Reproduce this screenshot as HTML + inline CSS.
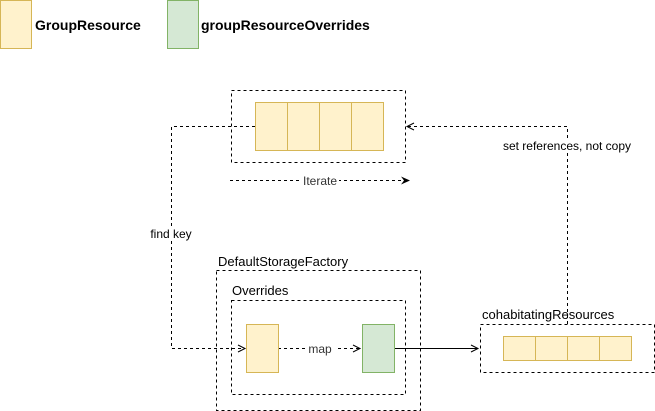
<!DOCTYPE html>
<html><head><meta charset="utf-8"><style>
html,body{margin:0;padding:0;background:#fff;}
svg{display:block;}
text{font-family:"Liberation Sans",Arial,sans-serif;font-size:12px;fill:#000;}
</style></head><body>
<svg width="655" height="411" viewBox="0 0 655 411" xmlns="http://www.w3.org/2000/svg">
<defs>
<marker id="oa" markerWidth="10" markerHeight="10" refX="8" refY="5" orient="auto" markerUnits="userSpaceOnUse"><path d="M1,1.5 L8,5 L1,8.5" fill="none" stroke="#000" stroke-width="1"/></marker>
<marker id="fa" markerWidth="10" markerHeight="10" refX="8" refY="5" orient="auto" markerUnits="userSpaceOnUse"><path d="M0,1 L9,5 L0,9 L3,5 Z" fill="#000"/></marker>
</defs>
<!-- legend -->
<rect x="0.5" y="0.5" width="31" height="48" fill="#fff2cc" stroke="#d6b656"/>
<text x="35" y="30" style="font-size:14px;font-weight:bold">GroupResource</text>
<rect x="167.5" y="0.5" width="31" height="48" fill="#d5e8d4" stroke="#82b366"/>
<text x="201" y="30" style="font-size:14px;font-weight:bold">groupResourceOverrides</text>

<g fill="none" stroke="#000" stroke-dasharray="3,3">
<rect x="231.5" y="90.5" width="174" height="72"/>
<rect x="216.5" y="270.5" width="204" height="140"/>
<rect x="231.5" y="300.5" width="174" height="94"/>
<rect x="480.5" y="324.5" width="174" height="48"/>
<path d="M255,126.5 H171.5 V348.5 H245" marker-end="url(#oa)"/>
<path d="M567.5,324 V126.5 H407" marker-end="url(#oa)"/>
<path d="M278,348.5 H360" marker-end="url(#oa)"/>
<path d="M230,180.5 H409" marker-end="url(#fa)"/>
</g>
<path d="M394,348.5 H478" stroke="#000" fill="none" marker-end="url(#oa)"/>

<g fill="#fff2cc" stroke="#d6b656">
<rect x="255.5" y="102.5" width="32" height="48"/><rect x="287.5" y="102.5" width="32" height="48"/>
<rect x="319.5" y="102.5" width="32" height="48"/><rect x="351.5" y="102.5" width="32" height="48"/>
<rect x="503.5" y="336.5" width="32" height="24"/><rect x="535.5" y="336.5" width="32" height="24"/>
<rect x="567.5" y="336.5" width="32" height="24"/><rect x="599.5" y="336.5" width="32" height="24"/>
<rect x="246.5" y="324.5" width="32" height="48"/>
</g>
<rect x="362.5" y="324.5" width="32" height="48" fill="#d5e8d4" stroke="#82b366"/>

<rect x="301" y="173" width="38" height="14" fill="#fff"/>
<text x="320" y="185" text-anchor="middle" style="fill:#333">Iterate</text>
<rect x="305" y="341" width="30" height="14" fill="#fff"/>
<text x="320" y="353" text-anchor="middle" style="fill:#333">map</text>
<rect x="146" y="226" width="50" height="14" fill="#fff"/>
<text x="171" y="238" text-anchor="middle">find key</text>
<rect x="498" y="138" width="138" height="14" fill="#fff"/>
<text x="567" y="150" text-anchor="middle">set references, not copy</text>
<text x="218" y="266" style="font-size:13px">DefaultStorageFactory</text>
<text x="232" y="295" style="font-size:13px">Overrides</text>
<text x="482" y="319" style="font-size:13px">cohabitatingResources</text>
</svg>
</body></html>
